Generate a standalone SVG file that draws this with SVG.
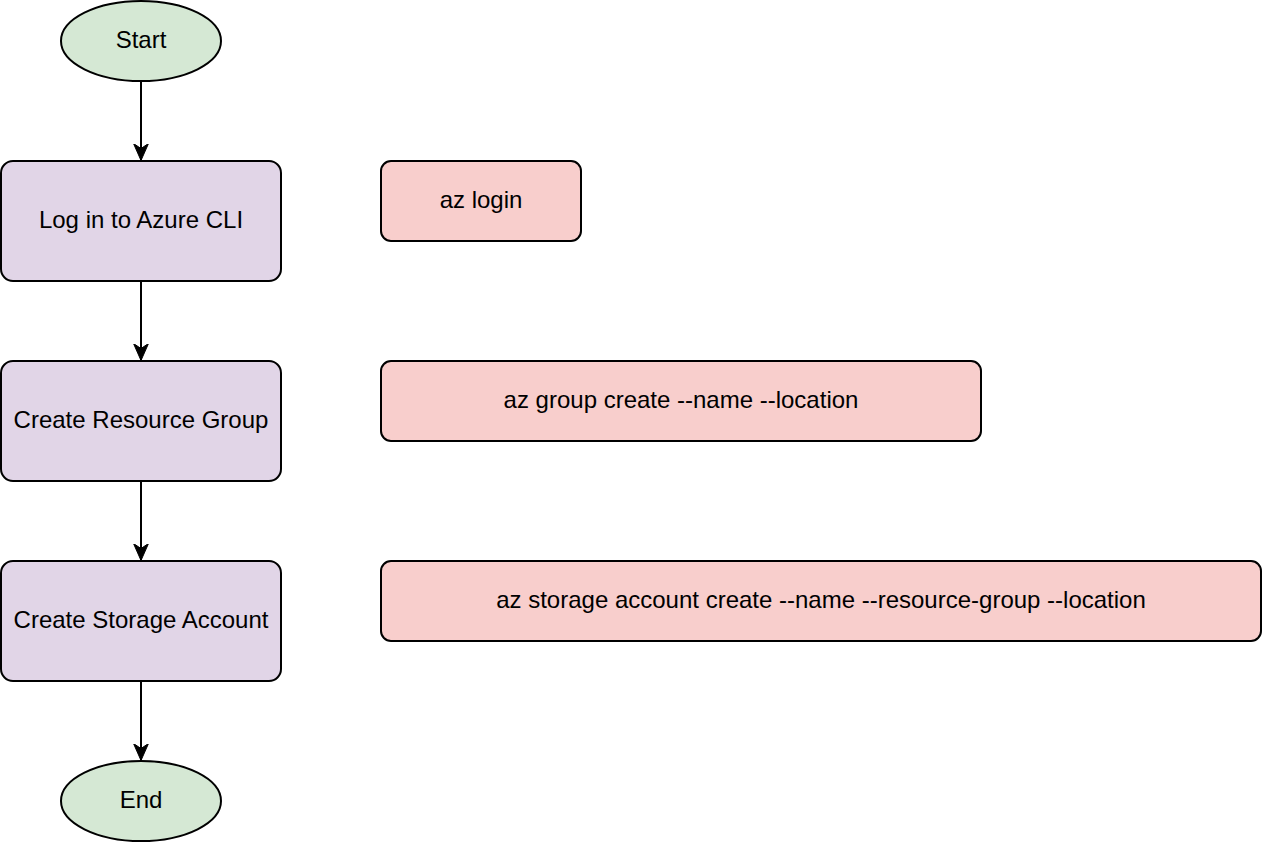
<svg xmlns="http://www.w3.org/2000/svg" width="1262" height="842" viewBox="0 0 1262 842">
<style>
.t{font-family:"Liberation Sans",Arial,sans-serif;font-size:24px;fill:#000;text-anchor:middle}
.term{fill:#d5e8d4;stroke:#000;stroke-width:2}
.step{fill:#e1d5e7;stroke:#000;stroke-width:2}
.cmd{fill:#f8cecc;stroke:#000;stroke-width:2}
.edge{fill:none;stroke:#000;stroke-width:2}
</style>
<defs>
<marker id="arr" markerUnits="userSpaceOnUse" markerWidth="20" markerHeight="20" refX="17" refY="8" orient="auto">
<path d="M0,0.5 L17,8 L0,15.5 L5,8 Z" fill="#000" stroke="#000" stroke-width="1"/>
</marker>
</defs>
<rect width="1262" height="842" fill="#fff"/>
<g id="connectors">
<line class="edge" x1="141" y1="81" x2="141" y2="160.5" marker-end="url(#arr)"/>
<line class="edge" x1="141" y1="281" x2="141" y2="360.5" marker-end="url(#arr)"/>
<line class="edge" x1="141" y1="481" x2="141" y2="560.5" marker-end="url(#arr)"/>
<line class="edge" x1="141" y1="681" x2="141" y2="760.5" marker-end="url(#arr)"/>
</g>
<g id="start"><ellipse class="term" cx="141" cy="41" rx="80" ry="40"/><text class="t" x="141" y="48">Start</text></g>
<g id="login"><rect class="step" x="1" y="161" width="280" height="120" rx="12"/><text class="t" x="141" y="228">Log in to Azure CLI</text></g>
<g id="rg"><rect class="step" x="1" y="361" width="280" height="120" rx="12"/><text class="t" x="141" y="428">Create Resource Group</text></g>
<g id="sa"><rect class="step" x="1" y="561" width="280" height="120" rx="12"/><text class="t" x="141" y="628">Create Storage Account</text></g>
<g id="end"><ellipse class="term" cx="141" cy="801" rx="80" ry="40"/><text class="t" x="141" y="808">End</text></g>
<g id="cmd-login"><rect class="cmd" x="381" y="161" width="200" height="80" rx="10"/><text class="t" x="481" y="208">az login</text></g>
<g id="cmd-rg"><rect class="cmd" x="381" y="361" width="600" height="80" rx="10"/><text class="t" x="681" y="408">az group create --name --location</text></g>
<g id="cmd-sa"><rect class="cmd" x="381" y="561" width="880" height="80" rx="10"/><text class="t" x="821" y="608">az storage account create --name --resource-group --location</text></g>
</svg>
